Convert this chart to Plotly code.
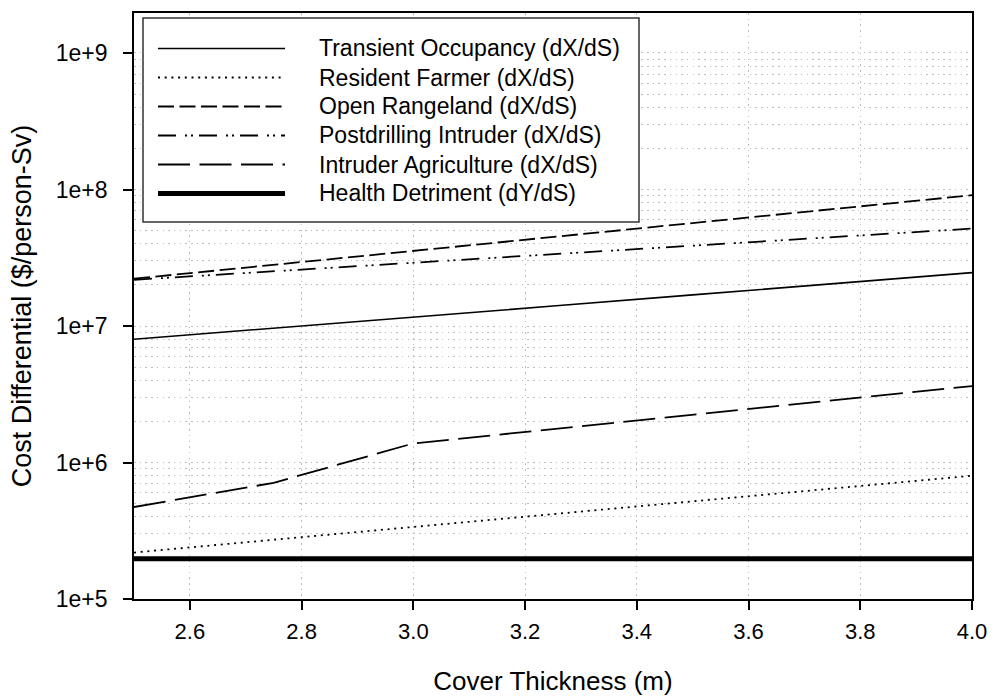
import plotly.graph_objects as go

# ---- data ----
thickness = [2.5, 2.75, 3.0, 3.25, 3.5, 3.75, 4.0]
transient_occupancy = [8.0e6, 9.6e6, 1.16e7, 1.40e7, 1.69e7, 2.04e7, 2.46e7]
resident_farmer = [2.19e5, 2.72e5, 3.37e5, 4.18e5, 5.20e5, 6.45e5, 8.0e5]
open_rangeland = [2.22e7, 2.81e7, 3.55e7, 4.49e7, 5.68e7, 7.18e7, 9.08e7]
postdrilling_intruder = [2.18e7, 2.52e7, 2.91e7, 3.36e7, 3.88e7, 4.48e7, 5.17e7]
intruder_agriculture = [4.72e5, 7.1e5, 1.38e6, 1.76e6, 2.24e6, 2.85e6, 3.63e6]
health_detriment = [1.97e5, 1.97e5, 1.97e5, 1.97e5, 1.97e5, 1.97e5, 1.97e5]

series_names = [
    "Transient Occupancy (dX/dS)",
    "Resident Farmer (dX/dS)",
    "Open Rangeland (dX/dS)",
    "Postdrilling Intruder (dX/dS)",
    "Intruder Agriculture (dX/dS)",
    "Health Detriment (dY/dS)",
]
series_values = [transient_occupancy, resident_farmer, open_rangeland,
                 postdrilling_intruder, intruder_agriculture, health_detriment]

y_tick_vals = [1e5, 1e6, 1e7, 1e8, 1e9]
y_tick_text = ["1e+5", "1e+6", "1e+7", "1e+8", "1e+9"]
x_tick_vals = [2.6, 2.8, 3.0, 3.2, 3.4, 3.6, 3.8, 4.0]
x_tick_text = ["2.6", "2.8", "3.0", "3.2", "3.4", "3.6", "3.8", "4.0"]

# ---- styles ----
styles = [
    dict(width=1.6, dash="solid"),
    dict(width=1.8, dash="2px,4.7px"),
    dict(width=1.8, dash="16px,5.5px"),
    dict(width=1.8, dash="18px,9px,2px,4px,2px,6px"),
    dict(width=1.8, dash="32px,9.5px"),
    dict(width=5, dash="solid"),
]

FONT = "Liberation Sans, Arial, Helvetica, sans-serif"
W, H = 992, 696
L, R, T, B = 134, 972, 13, 599
GRID = "#bdbdbd"
GRIDDASH = "1.5px,4.2px"

fig = go.Figure()
for name, vals, st in zip(series_names, series_values, styles):
    fig.add_trace(go.Scatter(
        x=thickness, y=vals, mode="lines", name=name,
        line=dict(color="black", width=st["width"], dash=st["dash"]),
        showlegend=False,
    ))

def px(x):
    return (x - L) / (R - L)

def py(y):
    return (B - y) / (B - T)

# ---- manual legend (box, line samples, labels) ----
shapes = [dict(type="rect", xref="paper", yref="paper",
               x0=px(143), x1=px(639), y0=py(222), y1=py(18),
               fillcolor="white", line=dict(color="#333333", width=1.5),
               layer="above")]
annotations = []
row0, row_step = 48.5, 29.0
for i, (name, st) in enumerate(zip(series_names, styles)):
    ry = row0 + i * row_step
    shapes.append(dict(type="line", xref="paper", yref="paper",
                       x0=px(158), x1=px(285), y0=py(ry), y1=py(ry),
                       line=dict(color="black", width=st["width"], dash=st["dash"]),
                       layer="above"))
    annotations.append(dict(xref="paper", yref="paper", x=px(317), y=py(ry),
                            text=name, showarrow=False, xanchor="left",
                            yanchor="middle",
                            font=dict(family=FONT, size=23, color="black")))

fig.update_layout(
    width=W, height=H,
    margin=dict(l=L, r=W - R, t=T, b=H - B, autoexpand=False),
    paper_bgcolor="white", plot_bgcolor="white",
    font=dict(family=FONT, size=22, color="black"),
    showlegend=False,
    shapes=shapes,
    annotations=annotations,
    xaxis=dict(
        range=[2.5, 4.0],
        tickmode="array", tickvals=x_tick_vals, ticktext=x_tick_text,
        ticks="outside", ticklen=9, tickwidth=1.5, tickcolor="black",
        showline=True, linecolor="black", linewidth=1.6, mirror=True,
        showgrid=True, gridcolor=GRID, griddash=GRIDDASH, gridwidth=1,
        zeroline=False,
        ticklabelstandoff=3,
        tickfont=dict(family=FONT, size=22, color="black"),
        title=dict(text="Cover Thickness (m)", standoff=32,
                   font=dict(family=FONT, size=26, color="black")),
        automargin=False,
    ),
    yaxis=dict(
        type="log", range=[5, 9.293],
        tickmode="array", tickvals=y_tick_vals, ticktext=y_tick_text,
        ticks="outside", ticklen=9, tickwidth=1.5, tickcolor="black",
        showline=True, linecolor="black", linewidth=1.6, mirror=True,
        showgrid=True, gridcolor=GRID, griddash=GRIDDASH, gridwidth=1,
        minor=dict(dtick="D1", showgrid=True, gridcolor=GRID,
                   griddash=GRIDDASH, gridwidth=1, ticks=""),
        zeroline=False,
        ticklabelstandoff=11,
        tickfont=dict(family=FONT, size=23, color="black"),
        title=dict(text="Cost Differential ($/person-Sv)", standoff=16,
                   font=dict(family=FONT, size=27, color="black")),
        automargin=False,
    ),
)

fig.write_html("out.html")
